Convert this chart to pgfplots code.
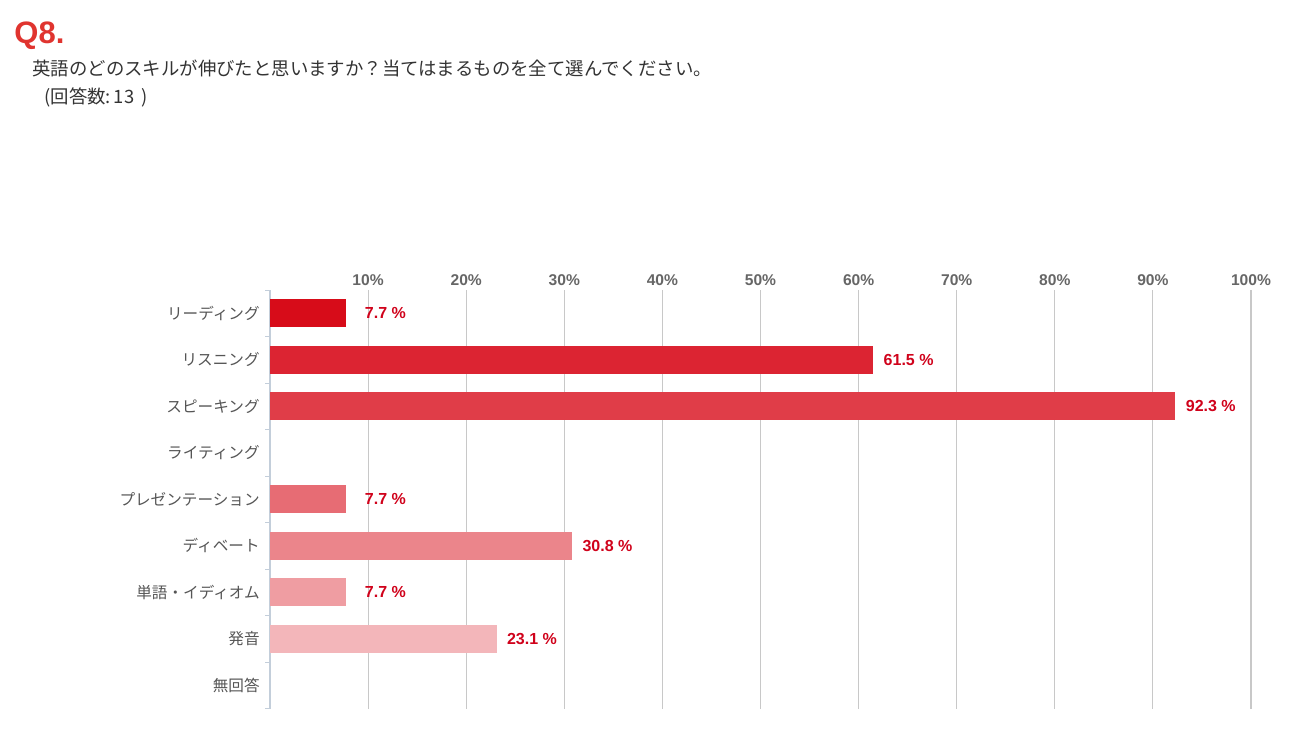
\documentclass[border=0pt]{standalone}
\usepackage{fontspec}
\setmainfont{Liberation Sans}
\newfontfamily\jp{Noto Sans CJK JP}
\usepackage{pgfplots}
\pgfplotsset{compat=1.18}
\definecolor{titlered}{HTML}{E0342F}
\definecolor{valred}{HTML}{D0021B}
\definecolor{qgray}{HTML}{333333}
\definecolor{labgray}{HTML}{555555}
\definecolor{tickgray}{HTML}{666666}
\definecolor{axisblue}{HTML}{C3CEDA}
\definecolor{gridgray}{HTML}{C8C8C8}
\definecolor{cA}{HTML}{D70C19}
\definecolor{cB}{HTML}{DC2432}
\definecolor{cC}{HTML}{E03D48}
\definecolor{cE}{HTML}{E76C74}
\definecolor{cF}{HTML}{EB858B}
\definecolor{cG}{HTML}{EF9DA2}
\definecolor{cH}{HTML}{F3B6BA}
\begin{document}
\begin{tikzpicture}
\path[use as bounding box] (0,0) rectangle (649.5pt,-372pt);
\node[anchor=base west, inner sep=0pt, font=\bfseries\fontsize{15.5}{18}\selectfont, text=titlered] at (7pt,-21.5pt) {Q8.};
\node[anchor=base west, inner sep=0pt, font=\jp\fontsize{9.2}{11}\selectfont, text=qgray] at (16pt,-37.5pt) {英語のどのスキルが伸びたと思いますか？当てはまるものを全て選んでください。};
\node[anchor=base west, inner sep=0pt, font=\jp\fontsize{9.2}{11}\selectfont, text=qgray] at (22pt,-51.5pt) {(回答数:\,13\, )};
\begin{axis}[
  at={(135pt,-145pt)}, anchor=north west,
  scale only axis, width=490.5pt, height=209.25pt,
  xmin=0, xmax=100, ymin=-0.5, ymax=8.5, y dir=reverse,
  xbar, bar width=14pt, bar shift=0pt,
  axis x line*=top, axis y line*=left,
  x axis line style={draw=none},
  y axis line style={draw=axisblue, line width=0.7pt, -},
  xtick={10,20,...,100},
  xticklabels={10\%,20\%,30\%,40\%,50\%,60\%,70\%,80\%,90\%,100\%},
  xticklabel style={font=\bfseries\fontsize{7.8}{9}\selectfont, text=tickgray, inner sep=0pt, yshift=1.8pt},
  xmajorgrids, grid style={draw=gridgray, line width=0.55pt},
  major tick length=0pt,
  ytick={0,...,8},
  yticklabels={リーディング,リスニング,スピーキング,ライティング,プレゼンテーション,ディベート,単語・イディオム,発音,無回答},
  yticklabel style={font=\jp\fontsize{7.8}{9}\selectfont, text=labgray, inner sep=0pt, xshift=-5pt},
  extra y ticks={-0.5,0.5,1.5,2.5,3.5,4.5,5.5,6.5,7.5,8.5},
  extra y tick labels={},
  extra y tick style={major tick length=2.5pt, tick align=outside, tick style={draw=axisblue, line width=0.5pt}},
  point meta=x,
  /pgf/number format/assume math mode=true,
  every node near coord/.append style={font=\bfseries\fontsize{8}{9}\selectfont, text=valred, anchor=west, inner sep=0pt},
  nodes near coords={\pgfmathprintnumber[fixed,fixed zerofill,precision=1]{\pgfplotspointmeta} \%},
  clip=false,
]
\addplot[fill=cA, draw=none, every node near coord/.append style={xshift=9.5pt}] coordinates {(7.7,0)};
\addplot[fill=cB, draw=none, every node near coord/.append style={xshift=5pt}] coordinates {(61.5,1)};
\addplot[fill=cC, draw=none, every node near coord/.append style={xshift=5pt}] coordinates {(92.3,2)};
\addplot[fill=cE, draw=none, every node near coord/.append style={xshift=9.5pt}] coordinates {(7.7,4)};
\addplot[fill=cF, draw=none, every node near coord/.append style={xshift=5pt}] coordinates {(30.8,5)};
\addplot[fill=cG, draw=none, every node near coord/.append style={xshift=9.5pt}] coordinates {(7.7,6)};
\addplot[fill=cH, draw=none, every node near coord/.append style={xshift=5pt}] coordinates {(23.1,7)};
\end{axis}
\end{tikzpicture}
\end{document}
